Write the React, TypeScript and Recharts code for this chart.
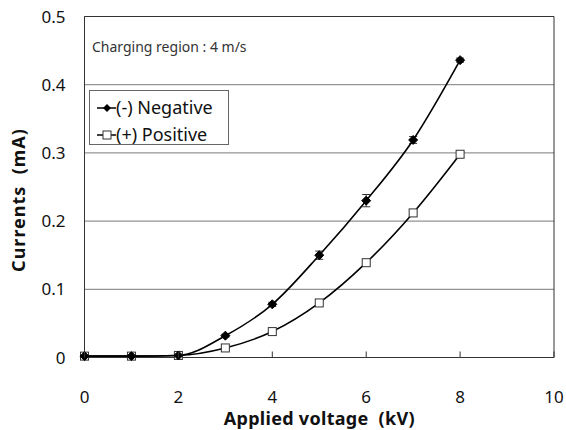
import React from 'react';
import {
  LineChart,
  Line,
  XAxis,
  YAxis,
  CartesianGrid,
  ReferenceArea,
  ErrorBar,
} from 'recharts';

// Applied voltage (kV)
const voltages = [0, 1, 2, 3, 4, 5, 6, 7, 8];
// Currents (mA)
const negativeCurrent = [0.002, 0.002, 0.003, 0.032, 0.078, 0.15, 0.23, 0.319, 0.436];
const positiveCurrent = [0.002, 0.002, 0.003, 0.014, 0.038, 0.08, 0.139, 0.212, 0.298];
const negativeError = [0, 0, 0, 0.002, 0.003, 0.006, 0.009, 0.005, 0.003];
const positiveError = [0, 0, 0, 0, 0, 0, 0.002, 0.002, 0.004];

const xTicks = [0, 2, 4, 6, 8, 10];
const yTicks = [0, 0.1, 0.2, 0.3, 0.4, 0.5];

const data = voltages.map((v, i) => ({
  v,
  neg: negativeCurrent[i],
  pos: positiveCurrent[i],
  negErr: negativeError[i],
  posErr: positiveError[i],
}));

const FONT = '"Noto Sans", sans-serif';

const Diamond = (props: any) => {
  const { cx, cy } = props;
  if (cx == null || cy == null) return null;
  const r = 4.5;
  return (
    <polygon
      points={`${cx},${cy - r} ${cx + r},${cy} ${cx},${cy + r} ${cx - r},${cy}`}
      fill="#000"
      stroke="#000"
      strokeWidth={1}
    />
  );
};

const Square = (props: any) => {
  const { cx, cy } = props;
  if (cx == null || cy == null) return null;
  const s = 8;
  return (
    <rect x={cx - s / 2} y={cy - s / 2} width={s} height={s} fill="#fff" stroke="#333" strokeWidth={1} />
  );
};

// bottom ticks point into the plot, labels sit below
const XTick = (props: any) => {
  const { x, y, payload } = props;
  return (
    <g>
      <line x1={x} y1={y} x2={x} y2={y - 6} stroke="#333" strokeWidth={1} />
      <text x={x} y={y + 45} textAnchor="middle" fontSize={17} fill="#111" fontFamily={FONT}>
        {payload.value}
      </text>
    </g>
  );
};

const XTitle = (props: any) => {
  const { viewBox } = props;
  const cx = viewBox.x + viewBox.width / 2;
  return (
    <text
      x={cx}
      y={424.5}
      textAnchor="middle"
      fontSize={18}
      fontWeight={700}
      fill="#111"
      fontFamily={FONT}
      letterSpacing={0.3}
      style={{ whiteSpace: 'pre' }}
    >
      {'Applied voltage  (kV)'}
    </text>
  );
};

const YTitle = () => (
  <text
    transform="translate(24.5,200) rotate(-90)"
    textAnchor="middle"
    fontSize={18}
    fontWeight={700}
    fill="#111"
    fontFamily={FONT}
    letterSpacing={1}
    style={{ whiteSpace: 'pre' }}
  >
    {'Currents  (mA)'}
  </text>
);

const LegendBox = () => (
  <div
    style={{
      position: 'absolute',
      left: 89,
      top: 90,
      border: '1px solid #666',
      background: '#fff',
      width: 140,
      height: 55,
      boxSizing: 'border-box',
      padding: '3px 0 0 7px',
      fontFamily: FONT,
      fontSize: 18,
      color: '#111',
      lineHeight: '27px',
    }}
  >
    <div style={{ display: 'flex', alignItems: 'center' }}>
      <svg width={19} height={12}>
        <line x1={0} y1={6} x2={19} y2={6} stroke="#000" strokeWidth={1.5} />
        <polygon points="10,2 14,6 10,10 6,6" fill="#000" />
      </svg>
      <span>(-) Negative</span>
    </div>
    <div style={{ display: 'flex', alignItems: 'center' }}>
      <svg width={19} height={12}>
        <line x1={0} y1={6} x2={19} y2={6} stroke="#000" strokeWidth={1.5} />
        <rect x={6} y={2} width={8} height={8} fill="#fff" stroke="#333" />
      </svg>
      <span>(+) Positive</span>
    </div>
  </div>
);

export default function App() {
  return (
    <div style={{ position: 'absolute', left: 0, top: 0, width: 566, height: 430, background: '#fff' }}>
      <LineChart
        width={566}
        height={430}
        data={data}
        margin={{ top: 16.5, right: 12, bottom: 0, left: 0 }}
        style={{ fontFamily: FONT }}
      >
        <CartesianGrid horizontal vertical={false} stroke="#7a7a7a" strokeWidth={1} />
        <XAxis
          type="number"
          dataKey="v"
          domain={[0, 10]}
          ticks={xTicks}
          height={72.5}
          axisLine={{ stroke: '#333' }}
          tickLine={false}
          tickSize={0}
          tickMargin={0}
          tick={<XTick />}
          label={{ content: (p: any) => <XTitle {...p} /> }}
        />
        <YAxis
          type="number"
          domain={[0, 0.5]}
          ticks={yTicks}
          width={84.5}
          axisLine={{ stroke: '#333' }}
          tickLine={false}
          tickSize={0}
          tickMargin={19}
          tick={{ fontSize: 17, fill: '#111', fontFamily: FONT }}
          tickFormatter={(t: number) => (t === 0 ? '0' : String(t))}
          label={{ content: () => <YTitle /> }}
        />
        <ReferenceArea x1={0} x2={10} y1={0} y2={0.5} fill="none" stroke="#333" strokeWidth={1} />
        <Line
          type="monotone"
          dataKey="pos"
          stroke="#000"
          strokeWidth={1.6}
          dot={<Square />}
          activeDot={false}
          isAnimationActive={false}
        >
          <ErrorBar dataKey="posErr" width={4} stroke="#333" strokeWidth={1} direction="y" />
        </Line>
        <Line
          type="monotone"
          dataKey="neg"
          stroke="#000"
          strokeWidth={1.6}
          dot={<Diamond />}
          activeDot={false}
          isAnimationActive={false}
        >
          <ErrorBar dataKey="negErr" width={4} stroke="#333" strokeWidth={1} direction="y" />
        </Line>
      </LineChart>
      <LegendBox />
      <div
        style={{
          position: 'absolute',
          left: 92,
          top: 37,
          fontFamily: FONT,
          fontSize: 14,
          color: '#333',
        }}
      >
        Charging region : 4 m/s
      </div>
    </div>
  );
}
